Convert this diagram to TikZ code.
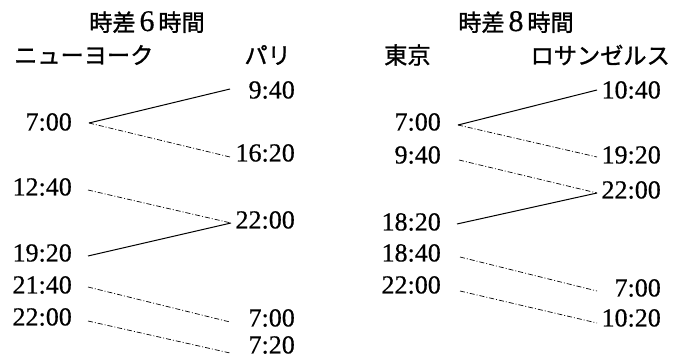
\documentclass[tikz,border=0pt]{standalone}
\usepackage{fontspec}
\setmainfont{Liberation Serif}
\newfontfamily\dig{Liberation Serif}[FakeBold=0.5]
\newfontfamily\cjk{Noto Sans CJK JP}[FakeBold=1.2]
\begin{document}
\begin{tikzpicture}[x=1pt,y=-1pt,
  tm/.style={inner sep=0pt,font=\dig\fontsize{26}{26}\selectfont},
  jp/.style={inner sep=0pt,font=\cjk\fontsize{23.2}{24}\selectfont},
  solidln/.style={line width=1pt},
  dashln/.style={line width=0.7pt,dash pattern=on 5pt off 2pt on 1pt off 2pt}]
\useasboundingbox (0,0) rectangle (688,358);
% ---- left panel ----
\node[jp] (t1) at (147,22) {時差\,{\dig\fontsize{30}{30}\selectfont 6}\,時間};
\node[jp,anchor=west] (ny) at (14,55) {ニューヨーク};
\node[jp,anchor=east] (pa) at (291,55) {パリ};
\node[tm,anchor=east] (a1) at (72,122) {7:00};
\node[tm,anchor=east] (a2) at (72,187) {12:40};
\node[tm,anchor=east] (a3) at (72,253) {19:20};
\node[tm,anchor=east] (a4) at (72,285) {21:40};
\node[tm,anchor=east] (a5) at (72,317) {22:00};
\node[tm,anchor=east] (b1) at (295,90) {9:40};
\node[tm,anchor=east] (b2) at (295,153) {16:20};
\node[tm,anchor=east] (b3) at (295,220) {22:00};
\node[tm,anchor=east] (b4) at (295,318) {7:00};
\node[tm,anchor=east] (b5) at (295,345) {7:20};
\draw[solidln] ([xshift=17pt,yshift=-1pt]a1.east) -- ([xshift=-65pt,yshift=1pt]b1.east);
\draw[dashln] ([xshift=17pt,yshift=-1pt]a1.east) -- ([xshift=-65pt,yshift=-4pt]b2.east);
\draw[dashln] ([xshift=16pt,yshift=-3pt]a2.east) -- ([xshift=-64pt,yshift=-3pt]b3.east);
\draw[solidln] ([xshift=16pt,yshift=-3pt]a3.east) -- ([xshift=-64pt,yshift=-3pt]b3.east);
\draw[dashln] ([xshift=16pt,yshift=-2pt]a4.east) -- ([xshift=-65pt,yshift=-4pt]b4.east);
\draw[dashln] ([xshift=16pt,yshift=-4pt]a5.east) -- ([xshift=-65pt,yshift=-8pt]b5.east);
% ---- right panel ----
\node[jp] (t2) at (516,22) {時差\,{\dig\fontsize{30}{30}\selectfont 8}\,時間};
\node[jp,anchor=west] (tk) at (384,55) {東京};
\node[jp,anchor=east] (la) at (670,55) {ロサンゼルス};
\node[tm,anchor=east] (c1) at (441,122) {7:00};
\node[tm,anchor=east] (c2) at (441,155) {9:40};
\node[tm,anchor=east] (c3) at (441,222) {18:20};
\node[tm,anchor=east] (c4) at (441,253) {18:40};
\node[tm,anchor=east] (c5) at (441,285) {22:00};
\node[tm,anchor=east] (d1) at (661,90) {10:40};
\node[tm,anchor=east] (d2) at (661,155) {19:20};
\node[tm,anchor=east] (d3) at (661,190) {22:00};
\node[tm,anchor=east] (d4) at (661,288) {7:00};
\node[tm,anchor=east] (d5) at (661,318) {10:20};
\draw[solidln] ([xshift=17pt,yshift=-3pt]c1.east) -- ([xshift=-64pt]d1.east);
\draw[dashln] ([xshift=17pt,yshift=-3pt]c1.east) -- ([xshift=-64pt,yshift=-2pt]d2.east);
\draw[dashln] ([xshift=18pt,yshift=-5pt]c2.east) -- ([xshift=-64pt,yshift=-3pt]d3.east);
\draw[solidln] ([xshift=16pt,yshift=-2pt]c3.east) -- ([xshift=-64pt,yshift=-3pt]d3.east);
\draw[dashln] ([xshift=19pt,yshift=-4pt]c4.east) -- ([xshift=-64pt,yshift=-3pt]d4.east);
\draw[dashln] ([xshift=19pt,yshift=-6pt]c5.east) -- ([xshift=-64pt,yshift=-5pt]d5.east);
\end{tikzpicture}
\end{document}
